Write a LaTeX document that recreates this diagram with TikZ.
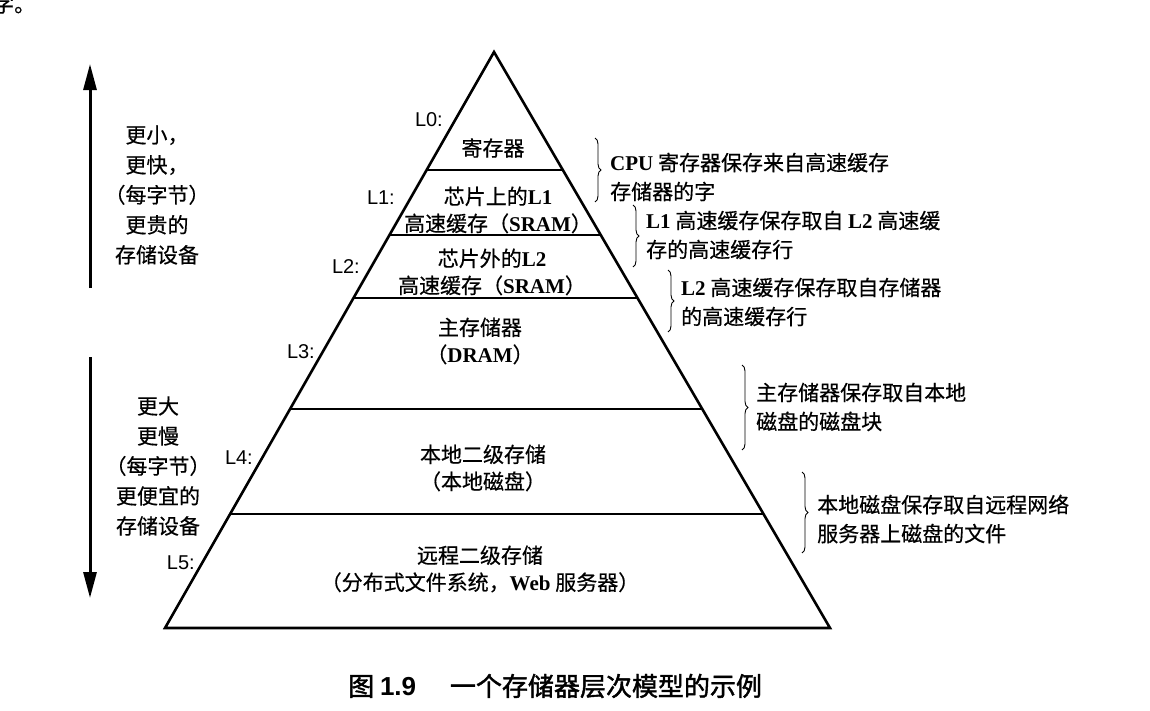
\documentclass[tikz,border=0pt]{standalone}
\usepackage{fontspec}
\setmainfont{Liberation Serif}
\newfontfamily\cjk{Noto Sans CJK SC}[FakeBold=0.5]
\newfontfamily\cjkhead{Noto Sans CJK SC}[FakeBold=1.6]
\newfontfamily\labfont{Liberation Sans}
\usetikzlibrary{arrows.meta,calc,decorations.pathreplacing}
\newcommand\en[1]{{\rmfamily\bfseries #1}}
\tikzset{
  pyramid/.style={draw, line width=2.6pt, line join=miter},
  divider/.style={line width=2.4pt},
  levellabel/.style={font=\labfont\fontsize{20}{24}\selectfont, anchor=east, inner sep=0pt},
  leveltext/.style={font=\cjk\fontsize{21}{27}\selectfont, align=center, inner sep=0pt},
  note/.style={font=\cjk\fontsize{21}{29}\selectfont, align=left, anchor=west, inner sep=0pt},
  sidetext/.style={font=\cjk\fontsize{21}{30}\selectfont, align=center, inner sep=0pt},
  notebrace/.style={decorate, decoration={brace, amplitude=6pt}, line width=0.9pt},
  sizearrow/.style={-{Triangle[length=26pt,width=13pt]}, line width=3pt},
}

\begin{document}
\begin{tikzpicture}[x=1pt, y=-1pt]
  \useasboundingbox (0,0) rectangle (1150,710);
  \node[font=\cjk\fontsize{21}{21}\selectfont, anchor=base west, inner sep=0pt] (frag) at (-7,12) {字。};

  \coordinate (apex) at (494,52);
  \coordinate (lbot) at (165,628);
  \coordinate (rbot) at (830,628);
  \draw[pyramid] (apex) -- (lbot) -- (rbot) -- cycle;
  \foreach \t in {0.205,0.318,0.427,0.620,0.802}
    \draw[divider] ($(apex)!\t!(lbot)$) -- ($(apex)!\t!(rbot)$);

  \node[levellabel] (lab0) at (443,120) {L0:};
  \node[levellabel] (lab1) at (395,198) {L1:};
  \node[levellabel] (lab2) at (360,267) {L2:};
  \node[levellabel] (lab3) at (315,352) {L3:};
  \node[levellabel] (lab4) at (253,458) {L4:};
  \node[levellabel] (lab5) at (195,563) {L5:};

  \node[leveltext] (reg) at (493,148) {寄存器};
  \node[leveltext] (lone) at (498,210) {芯片上的\en{L1}\\高速缓存（\en{SRAM}）};
  \node[leveltext] (ltwo) at (492,272) {芯片外的\en{L2}\\高速缓存（\en{SRAM}）};
  \node[leveltext] (mainmem) at (480,341) {主存储器\\（\en{DRAM}）};
  \node[leveltext] (localdisk) at (483,468) {本地二级存储\\（本地磁盘）};
  \node[leveltext] (remote) at (480,569) {远程二级存储\\（分布式文件系统，\en{Web} 服务器）};

  \coordinate (uptail) at (90,288);
  \coordinate (uptip) at (90,64);
  \draw[sizearrow] (uptail) -- (uptip);
  \node[sidetext] (costly) at (157,195) {更小，\\更快，\\（每字节）\\更贵的\\存储设备};
  \coordinate (downtail) at (90,357);
  \coordinate (downtip) at (90,598);
  \draw[sizearrow] (downtail) -- (downtip);
  \node[sidetext] (cheap) at (158,466) {更大\\更慢\\（每字节）\\更便宜的\\存储设备};

  \draw[notebrace] (595,138) -- (595,202);
  \node[note] (note0) at (610,177) {\en{CPU} 寄存器保存来自高速缓存\\存储器的字};
  \draw[notebrace] (633,205) -- (633,267);
  \node[note] (note1) at (646,235) {\en{L1} 高速缓存保存取自 \en{L2} 高速缓\\存的高速缓存行};
  \draw[notebrace] (668,270) -- (668,332);
  \node[note] (note2) at (681,302) {\en{L2} 高速缓存保存取自存储器\\的高速缓存行};
  \draw[notebrace] (742,365) -- (742,450);
  \node[note] (note3) at (756,407) {主存储器保存取自本地\\磁盘的磁盘块};
  \draw[notebrace] (802,472) -- (802,553);
  \node[note] (note4) at (817,519) {本地磁盘保存取自远程网络\\服务器上磁盘的文件};

  \node[font=\cjkhead\fontsize{26}{30}\selectfont, anchor=west, inner sep=0pt] (caption) at (348,686) {图 {\labfont\bfseries 1.9}\hspace{1.3em}一个存储器层次模型的示例};
\end{tikzpicture}
\end{document}
